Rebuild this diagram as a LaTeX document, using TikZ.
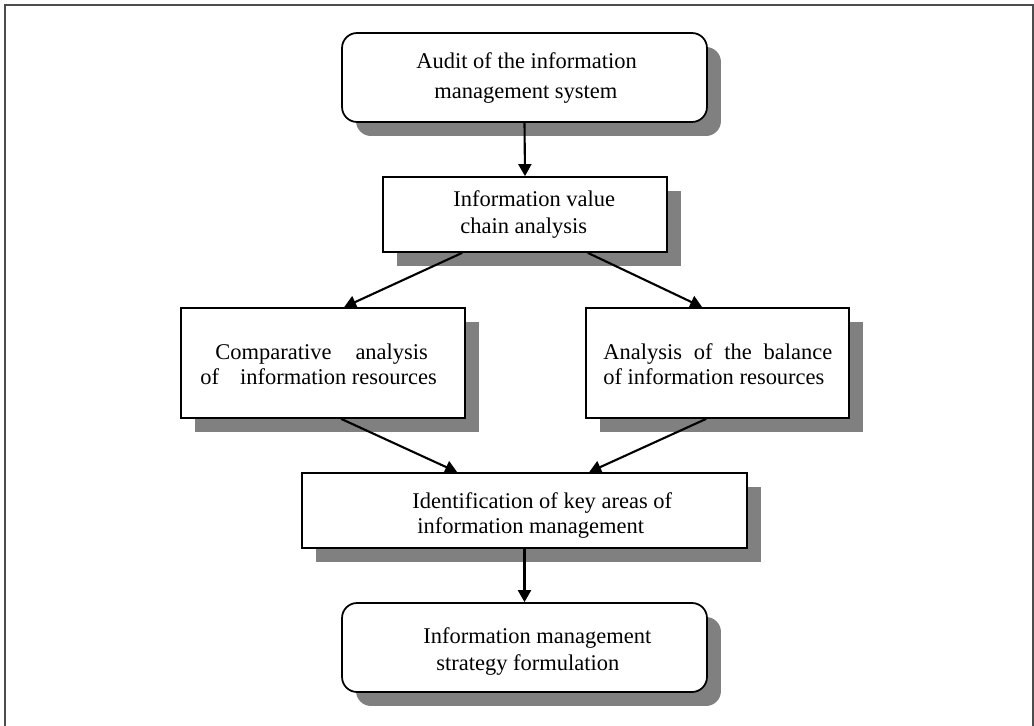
\documentclass[tikz,border=0pt]{standalone}
\usepackage{fontspec}
\setmainfont{Liberation Serif}
\usetikzlibrary{arrows.meta,shadows,calc}
\begin{document}
\begin{tikzpicture}[x=0.02cm,y=-0.02cm,
  box/.style={draw=black, line width=1pt, fill=white, inner sep=0pt,
     drop shadow={shadow xshift=0.28cm, shadow yshift=-0.28cm, fill=black!50, opacity=1, draw=none}},
  rbox/.style={box, rounded corners=0.3cm},
  txt/.style={anchor=west, align=left, inner sep=0pt, font=\fontsize{12.8}{#1}\selectfont},
  conn/.style={line width=1.2pt, -{Triangle[length=0.24cm,width=0.26cm]}}
]
\useasboundingbox (0,0) rectangle (1034,726);
\draw[black!70, line width=0.6pt] (5,726) -- (5,5) -- (1033,5) -- (1033,726);

\node[rbox, minimum width=7.3cm, minimum height=1.78cm] (b1) at (524.5,77.5) {};
\node[txt=17.07pt] (t1) at (416,78) {Audit of the information\\\hspace*{0.36cm}management system};

\node[box, minimum width=5.68cm, minimum height=1.5cm] (b2) at (525,214.5) {};
\node[txt=15.4pt] (t2) at (453,214.4) {Information value\\\hspace*{0.14cm}chain analysis};

\node[box, minimum width=5.68cm, minimum height=2.2cm] (b3) at (323,363) {};
\node[txt=14.2pt] (t3) at (200,364) {\hspace*{0.3cm}Comparative\hspace{0.48cm}analysis\\of\hspace{0.42cm}information resources};

\node[box, minimum width=5.26cm, minimum height=2.2cm] (b4) at (717.5,363) {};
\node[txt=14.2pt] (t4) at (603,364) {\makebox[4.58cm][s]{Analysis of the balance}\\of information resources};

\node[box, minimum width=8.9cm, minimum height=1.5cm] (b5) at (524.5,510.5) {};
\node[txt=14.2pt] (t5) at (412,515.3) {Identification of key areas of\\\hspace*{0.1cm}information management};

\node[rbox, minimum width=7.3cm, minimum height=1.78cm] (b6) at (524.5,647.5) {};
\node[txt=15.4pt] (t6) at (423,651.4) {Information management\\\hspace*{0.26cm}strategy formulation};

\draw[conn] (b1.south) -- (b2.north);
\draw[conn] ($(b2.south west)+(80,0)$) -- ($(b3.north west)+(164,0)$);
\draw[conn] ($(b2.south east)+(-80,0)$) -- ($(b4.north west)+(117,0)$);
\draw[conn] ($(b3.south west)+(161,0)$) -- ($(b5.north west)+(156,0)$);
\draw[conn] ($(b4.south west)+(121,0)$) -- ($(b5.north west)+(288,0)$);
\draw[conn] (b5.south) -- (b6.north);
\end{tikzpicture}
\end{document}
